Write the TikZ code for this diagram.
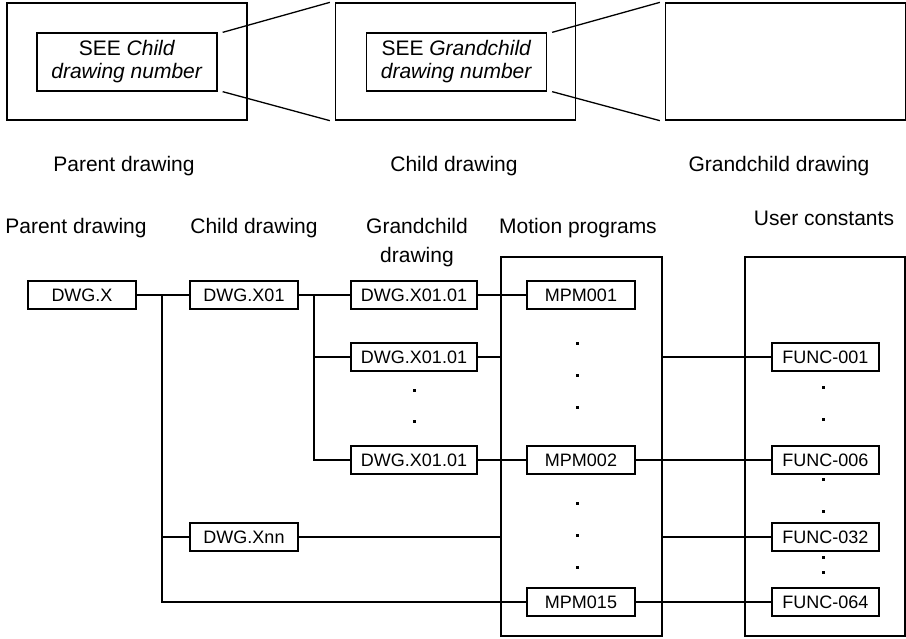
\documentclass[tikz,border=0pt]{standalone}
\usepackage{fontspec}
\setmainfont{Liberation Sans}
\usepackage{tikz}
\usetikzlibrary{positioning}

\newcommand\lblfont{\fontsize{21}{29}\selectfont}
\newcommand\dwgfont{\fontsize{18}{21}\selectfont}
\newcommand\seefont{\fontsize{21}{23}\selectfont}

\begin{document}
\begin{tikzpicture}[
  x=1pt, y=-1pt,
  line width=1.3pt,
  sheet/.style={draw, minimum width=240, minimum height=117},
  seebox/.style={draw, minimum width=180, minimum height=58, align=center, inner sep=0, font=\seefont},
  dwg/.style={draw, minimum width=108, minimum height=28, inner sep=0, font=\dwgfont},
  group/.style={draw, minimum width=161, minimum height=379},
  lbl/.style={anchor=base, align=center, font=\lblfont},
  vdot/.style={fill, minimum size=3, inner sep=0}
]
\useasboundingbox (0,0) rectangle (906,638);

% top sheets
\node[sheet] (sheetP) at (127,61.5) {};
\node[sheet] (sheetC) at (455.5,61.5) {};
\node[sheet] (sheetG) at (785.5,61.5) {};
\node[seebox] (seeP) at (127,62) {SEE \textit{Child}\\\textit{drawing number}};
\node[seebox] (seeC) at (456.5,62) {SEE \textit{Grandchild}\\\textit{drawing number}};

% zoom lines
\draw ([xshift=5]seeP.north east) -- ([xshift=-5]sheetC.north west);
\draw ([xshift=5]seeP.south east) -- ([xshift=-5]sheetC.south west);
\draw ([xshift=5]seeC.north east) -- ([xshift=-5]sheetG.north west);
\draw ([xshift=5]seeC.south east) -- ([xshift=-5]sheetG.south west);

\node[lbl] (tP) at (124,171) {Parent drawing};
\node[lbl] (tC) at (454,171) {Child drawing};
\node[lbl] (tG) at (779,171) {Grandchild drawing};

% column heads
\node[lbl] (hP) at (76,233) {Parent drawing};
\node[lbl] (hC) at (254,233) {Child drawing};
\node[lbl] (hG) at (417,262) {Grandchild\\drawing};
\node[lbl] (hM) at (578,233) {Motion programs};
\node[lbl] (hU) at (824,225) {User constants};

% groups
\node[group] (mp) at (581.5,446.5) {};
\node[group, minimum width=160] (uc) at (825,446.5) {};

% drawings
\node[dwg] (dwgX) at (82,295) {DWG.X};
\node[dwg] (dwgA) at (244,295) {DWG.X01};
\node[dwg] (dwgN) at (244,537) {DWG.Xnn};
\node[dwg, minimum width=126] (gcA) at (414,295) {DWG.X01.01};
\node[dwg, minimum width=126] (gcB) at (414,357) {DWG.X01.01};
\node[dwg, minimum width=126] (gcC) at (414,460) {DWG.X01.01};

% motion programs
\node[dwg] (mpmA) at (581,295) {MPM001};
\node[dwg] (mpmB) at (581,460) {MPM002};
\node[dwg] (mpmC) at (581,602) {MPM015};

% user constants
\node[dwg, minimum width=107] (fA) at (825.5,357) {FUNC-001};
\node[dwg, minimum width=107] (fB) at (825.5,460) {FUNC-006};
\node[dwg, minimum width=107] (fC) at (825.5,537) {FUNC-032};
\node[dwg, minimum width=107] (fD) at (825.5,602) {FUNC-064};

% dots
\foreach \y in {390,421} \node[vdot] at (414,\y) {};
\foreach \y in {343,375,407,503,535,567} \node[vdot] at (577,\y) {};
\foreach \y in {387,419,479,511,557,572} \node[vdot] at (823,\y) {};

% tree
\coordinate (jX) at (162,295);
\coordinate (jA) at (314,295);
\draw (dwgX) -- (dwgA);
\draw (jX) |- (mpmC.west);
\draw (jX |- dwgN) -- (dwgN.west);
\draw (dwgN.east) -- (dwgN -| mp.west);
\draw (dwgA) -- (gcA);
\draw (jA) |- (gcC.west);
\draw (jA |- gcB) -- (gcB.west);

% to motion programs
\draw (gcA) -- (mpmA);
\draw (gcB.east) -- (gcB -| mp.west);
\draw (gcC) -- (mpmB);

% to user constants
\draw (mp.east |- fA) -- (fA.west);
\draw (mpmB) -- (fB);
\draw (mp.east |- fC) -- (fC.west);
\draw (mpmC) -- (fD);
\end{tikzpicture}
\end{document}
